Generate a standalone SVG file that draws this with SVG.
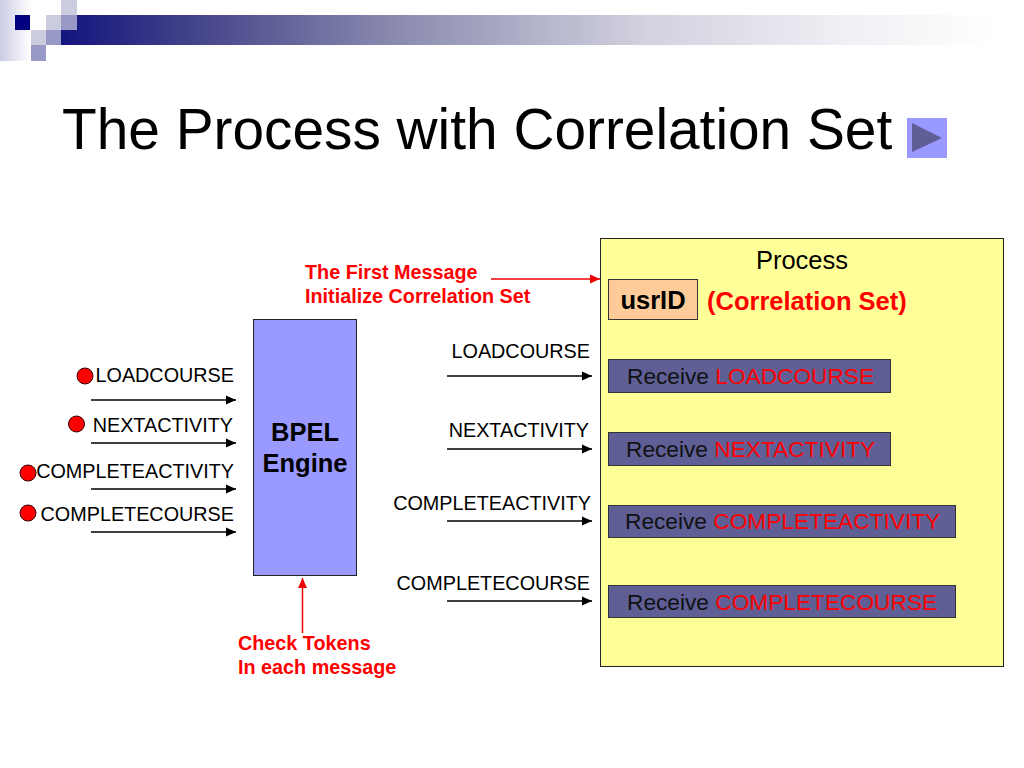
<svg xmlns="http://www.w3.org/2000/svg" width="1024" height="768" viewBox="0 0 1024 768">
<style>
text{font-family:"Liberation Sans",Arial,sans-serif;fill:#000}
.l{font-size:19.800px}
.e{text-anchor:end}
.r{fill:#f00}
.b{font-weight:bold}
.rb{font-size:19.800px;font-weight:bold;fill:#f00}
.h{font-size:25.500px}
.rt{font-size:22.700px;fill:#111}
.a{stroke:#000;stroke-width:1.500;fill:none;marker-end:url(#ah)}
.ra{stroke:#e00;stroke-width:1.500;fill:none;marker-end:url(#rh)}
.t{fill:#f00;stroke:#300;stroke-width:1}
.rc{fill:#5f5f96;stroke:#333;stroke-width:1}
</style>
<defs>
<marker id="ah" markerUnits="userSpaceOnUse" markerWidth="11" markerHeight="10" refX="10" refY="5" orient="auto"><path d="M0 0.500L10 5L0 9.500z" fill="#000"/></marker>
<marker id="rh" markerUnits="userSpaceOnUse" markerWidth="11" markerHeight="10" refX="10" refY="5" orient="auto"><path d="M0 0.500L10 5L0 9.500z" fill="#e00"/></marker>
<linearGradient id="band"><stop offset="0" stop-color="#14147f"/><stop offset=".14" stop-color="#44448a"/><stop offset=".352" stop-color="#8c8cb0"/><stop offset=".61" stop-color="#d2d2e0"/><stop offset=".82" stop-color="#f0f0f5"/><stop offset=".97" stop-color="#fff"/></linearGradient>
<linearGradient id="fade"><stop offset="0" stop-color="#ccccE6"/><stop offset="1" stop-color="#fff"/></linearGradient>
</defs>
<rect width="1024" height="768" fill="#fff"/>
<g id="decor">
<rect x="0" y="0" width="31" height="61" fill="url(#fade)"/>
<rect x="61" y="15" width="963" height="30" fill="url(#band)"/>
<rect x="15" y="15" width="15" height="15" fill="#000080"/>
<rect x="31" y="30" width="15" height="15" fill="#ccccdf"/>
<rect x="46" y="15" width="15" height="15" fill="#ccccdf"/>
<rect x="61" y="0" width="16" height="15" fill="#ccccdf"/>
<rect x="61" y="15" width="16" height="15" fill="#9999c8"/>
<rect x="46" y="30" width="15" height="15" fill="#9999c8"/>
<rect x="31" y="45" width="15" height="16" fill="#9999c8"/>
</g>
<text x="62" y="149" font-size="56.800">The Process with Correlation Set</text>
<g id="play-button"><rect x="907" y="118" width="40" height="40" fill="#9999ff"/><path d="M912 123L942 138L912 152z" fill="#5f5f96"/></g>
<g id="process"><rect x="600.500" y="238.500" width="403" height="428" fill="#ffff99" stroke="#222" stroke-width="1"/><text x="802" y="269" class="h" text-anchor="middle">Process</text></g>
<g id="usrid"><rect x="608.500" y="279.500" width="89" height="40" fill="#ffcc99" stroke="#333"/><text x="653" y="309" class="h b" text-anchor="middle">usrID</text></g>
<text id="corr" x="707" y="310" class="h b r">(Correlation Set)</text>
<g id="engine"><rect x="253.500" y="319.500" width="103" height="256" fill="#9999ff" stroke="#222"/><text x="305" y="441" class="h b" text-anchor="middle">BPEL</text><text x="305" y="472" class="h b" text-anchor="middle">Engine</text></g>
<g id="r1"><rect class="rc" x="608.500" y="359.500" width="282" height="33"/><text x="627" y="384" class="rt">Receive <tspan class="r">LOADCOURSE</tspan></text></g>
<g id="r2"><rect class="rc" x="608.500" y="432.500" width="282" height="33"/><text x="626" y="457" class="rt">Receive <tspan class="r">NEXTACTIVITY</tspan></text></g>
<g id="r3"><rect class="rc" x="608.500" y="505.500" width="347" height="32"/><text x="625" y="529" class="rt">Receive <tspan class="r">COMPLETEACTIVITY</tspan></text></g>
<g id="r4"><rect class="rc" x="608.500" y="585.500" width="347" height="32"/><text x="627" y="610" class="rt">Receive <tspan class="r">COMPLETECOURSE</tspan></text></g>
<g id="labels">
<text x="234" y="382" class="l e">LOADCOURSE</text>
<text x="233" y="432" class="l e">NEXTACTIVITY</text>
<text x="234" y="478" class="l e">COMPLETEACTIVITY</text>
<text x="234" y="521" class="l e">COMPLETECOURSE</text>
<text x="590" y="358" class="l e">LOADCOURSE</text>
<text x="589" y="437" class="l e">NEXTACTIVITY</text>
<text x="591" y="510" class="l e">COMPLETEACTIVITY</text>
<text x="590" y="590" class="l e">COMPLETECOURSE</text>
<text x="305" y="279" class="rb">The First Message</text>
<text x="305" y="303" class="rb">Initialize Correlation Set</text>
<text x="238" y="650" class="rb">Check Tokens</text>
<text x="238" y="674" class="rb">In each message</text>
</g>
<g id="tokens">
<circle class="t" cx="85" cy="376" r="8"/>
<circle class="t" cx="76.500" cy="424" r="8"/>
<circle class="t" cx="28" cy="473" r="8"/>
<circle class="t" cx="28" cy="513" r="8"/>
</g>
<g id="connectors">
<path class="a" d="M91 400H236"/>
<path class="a" d="M91 443H236"/>
<path class="a" d="M91 489H236"/>
<path class="a" d="M91 532H236"/>
<path class="a" d="M447 376H592"/>
<path class="a" d="M447 449H592"/>
<path class="a" d="M447 521H592"/>
<path class="a" d="M447 601H592"/>
<path class="ra" d="M491 279H600"/>
<path class="ra" d="M302.500 633V578"/>
</g>
</svg>
